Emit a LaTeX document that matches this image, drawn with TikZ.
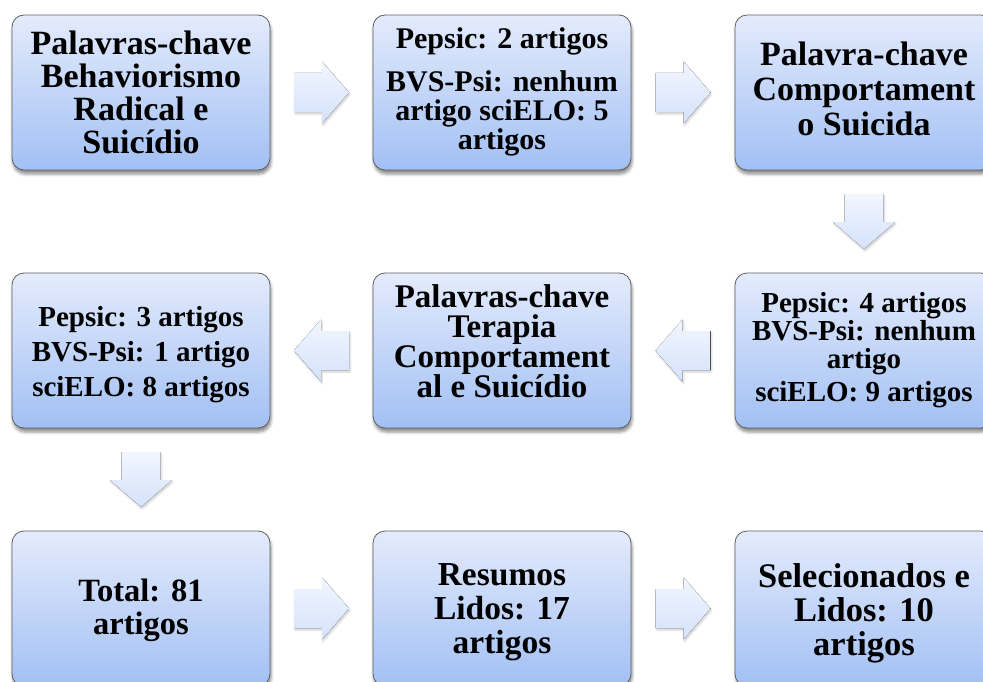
\documentclass[tikz,border=0pt]{standalone}
\usepackage{fontspec}
\setmainfont{Liberation Serif}
\usetikzlibrary{calc,shadows.blur}

\definecolor{boxtop}{RGB}{228,235,252}
\definecolor{boxbottom}{RGB}{162,192,244}
\definecolor{boxline}{RGB}{95,95,95}
\definecolor{arrtop}{RGB}{242,246,254}
\definecolor{arrbottom}{RGB}{212,226,251}

% block arrow at a coordinate, turned by an angle
\newcommand\blockarrow[2]{%
  \fill[flowarrow, shift={(#1)}, rotate=#2]
    (-27.5,-19.5) -- (0.5,-19.5) -- (0.5,-31) -- (27.5,0)
    -- (0.5,31) -- (0.5,19.5) -- (-27.5,19.5) -- cycle;}

\begin{document}
\begin{tikzpicture}[x=1pt, y=1pt,
  stage/.style={draw=boxline, line width=0.8pt, rounded corners=12pt,
    top color=boxtop, bottom color=boxbottom,
    minimum width=258pt, minimum height=155pt, inner sep=0pt,
    blur shadow={shadow xshift=1pt, shadow yshift=-4pt,
      shadow blur radius=3pt, shadow opacity=45}},
  txt/.style 2 args={align=center, inner sep=0pt,
    font=\bfseries\fontsize{#1}{#2}\selectfont},
  flowarrow/.style={top color=arrtop, bottom color=arrbottom,
    blur shadow={shadow xshift=1pt, shadow yshift=-2pt,
      shadow blur radius=2pt, shadow opacity=20}}]

  % Parameters
  \def\colA{141}    % column centres
  \def\colB{502}
  \def\colC{864}
  \def\rowA{-92.5}  % row centres
  \def\rowB{-350.5}
  \def\rowC{-608.5}

  \useasboundingbox (0,0) rectangle (983,-682);

  % Boxes
  \node[stage] (kw1)   at (\colA,\rowA) {};
  \node[stage] (res1)  at (\colB,\rowA) {};
  \node[stage] (kw2)   at (\colC,\rowA) {};
  \node[stage] (res3)  at (\colA,\rowB) {};
  \node[stage] (kw3)   at (\colB,\rowB) {};
  \node[stage] (res2)  at (\colC,\rowB) {};
  \node[stage] (total) at (\colA,\rowC) {};
  \node[stage] (lidos) at (\colB,\rowC) {};
  \node[stage] (final) at (\colC,\rowC) {};

  % Row 1 texts
  \node[txt={34}{33}] (kw1-t) at (kw1)
    {Palavras-chave\\Behaviorismo\\Radical e\\Suicídio};
  \node[txt={30}{29}, yshift=1pt] (res1-t) at (res1)
    {Pepsic: 2 artigos\\[14pt]BVS-Psi: nenhum\\artigo sciELO: 5\\artigos};
  \node[txt={34}{35}, yshift=4pt] (kw2-t) at (kw2)
    {Palavra-chave\\Comportament\\o Suicida};

  % Row 2 texts
  \node[txt={29}{29}, yshift=-4pt] (res3-t) at (res3)
    {Pepsic: 3 artigos\\[6pt]BVS-Psi: 1 artigo\\[6pt]sciELO: 8 artigos};
  \node[txt={33}{30}, yshift=9pt] (kw3-t) at (kw3)
    {Palavras-chave\\Terapia\\Comportament\\al e Suicídio};
  \node[txt={29}{28}] (res2-t) at (res2)
    {Pepsic: 4 artigos\\BVS-Psi: nenhum\\artigo\\[5pt]sciELO: 9 artigos};

  % Row 3 texts
  \node[txt={32.5}{33}, yshift=-2pt] (total-t) at (total)
    {Total: 81\\artigos};
  \node[txt={33.5}{34}, yshift=-4pt] (lidos-t) at (lidos)
    {Resumos\\Lidos: 17\\artigos};
  \node[txt={34.5}{34}, yshift=-5pt] (final-t) at (final)
    {Selecionados e\\Lidos: 10\\artigos};

  % Arrows between the stages
  \coordinate (a1) at ($(kw1.east)!0.5!(res1.west)$);
  \coordinate (a2) at ($(res1.east)!0.5!(kw2.west)$);
  \coordinate (a3) at ($(kw2.south)!0.5!(res2.north)$);
  \coordinate (a4) at ($(res2.west)!0.5!(kw3.east)$);
  \coordinate (a5) at ($(kw3.west)!0.5!(res3.east)$);
  \coordinate (a6) at ($(res3.south)!0.5!(total.north)$);
  \coordinate (a7) at ($(total.east)!0.5!(lidos.west)$);
  \coordinate (a8) at ($(lidos.east)!0.5!(final.west)$);

  \blockarrow{a1}{0}
  \blockarrow{a2}{0}
  \blockarrow{a3}{-90}
  \blockarrow{a4}{180}
  \blockarrow{a5}{180}
  \blockarrow{a6}{-90}
  \blockarrow{a7}{0}
  \blockarrow{a8}{0}
\end{tikzpicture}
\end{document}
